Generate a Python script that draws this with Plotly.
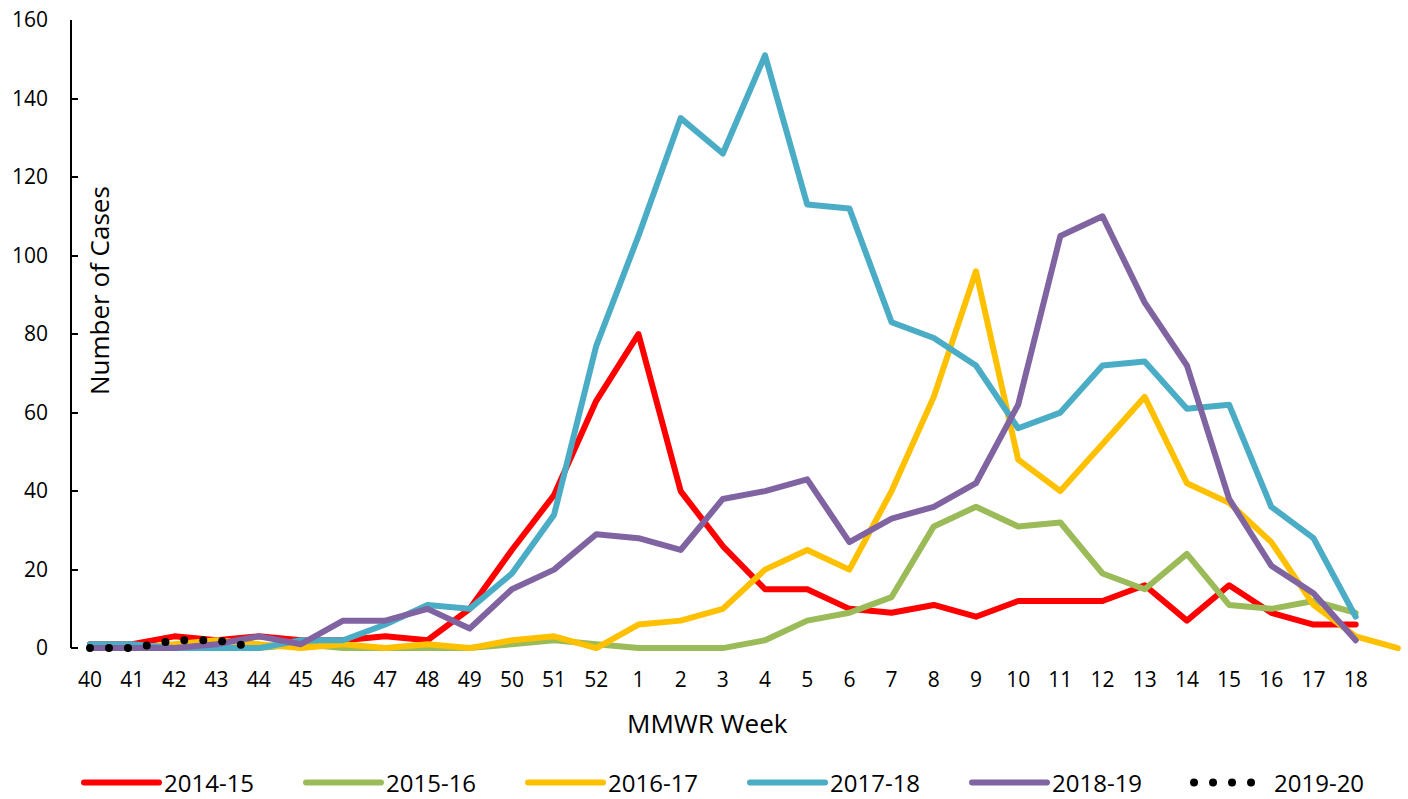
import plotly.graph_objects as go

weeks = ["40", "41", "42", "43", "44", "45", "46", "47", "48", "49", "50", "51", "52",
         "1", "2", "3", "4", "5", "6", "7", "8", "9", "10", "11", "12", "13", "14", "15",
         "16", "17", "18", ""]

s2014_15 = [1, 1, 3, 2, 3, 2, 2, 3, 2, 10, 25, 39, 63,
            80, 40, 26, 15, 15, 10, 9, 11, 8, 12, 12, 12, 16, 7, 16, 9, 6, 6]
s2015_16 = [0, 0, 0, 0, 0, 1, 0, 0, 0, 0, 1, 2, 1,
            0, 0, 0, 2, 7, 9, 13, 31, 36, 31, 32, 19, 15, 24, 11, 10, 12, 9]
s2016_17 = [0, 0, 1, 2, 1, 0, 1, 0, 1, 0, 2, 3, 0,
            6, 7, 10, 20, 25, 20, 40, 64, 96, 48, 40, 52, 64, 42, 37, 27, 11, 3, 0]
s2017_18 = [1, 1, 0, 0, 0, 2, 2, 6, 11, 10, 19, 34, 77,
            105, 135, 126, 151, 113, 112, 83, 79, 72, 56, 60, 72, 73, 61, 62, 36, 28, 8]
s2018_19 = [0, 0, 0, 1, 3, 1, 7, 7, 10, 5, 15, 20, 29,
            28, 25, 38, 40, 43, 27, 33, 36, 42, 62, 105, 110, 88, 72, 38, 21, 14, 2]
s2019_20 = [0, 0, 2, 2, 0]

series = [
    ("2014-15", s2014_15, "#FF0000"),
    ("2015-16", s2015_16, "#9BBB59"),
    ("2016-17", s2016_17, "#FFC000"),
    ("2017-18", s2017_18, "#4BACC6"),
    ("2018-19", s2018_19, "#8064A2"),
]

FONT = "Open Sans"
x_idx = list(range(len(weeks)))

fig = go.Figure()
for name, vals, color in series:
    fig.add_trace(go.Scatter(
        x=x_idx[:len(vals)], y=vals, name=name, mode="lines",
        line=dict(color=color, width=6),
    ))
fig.add_trace(go.Scatter(
    x=x_idx[:len(s2019_20)], y=s2019_20, name="2019-20", mode="lines",
    line=dict(color="black", width=8, dash="0px,19px"),
))

xr = [-0.45, 31.24]
yr = [-1.5, 160]

fig.update_layout(
    width=1408, height=799,
    margin=dict(l=71, r=0, t=20, b=145, autoexpand=False),
    paper_bgcolor="white", plot_bgcolor="white",
    font=dict(family=FONT, color="black"),
    xaxis=dict(
        range=xr, tickvals=x_idx[:31], ticktext=weeks[:31],
        showline=False, ticks="", showgrid=False, zeroline=False,
        tickfont=dict(size=21, family=FONT), ticklabelstandoff=11,
    ),
    xaxis2=dict(
        overlaying="x", anchor="free", position=(0 - yr[0]) / (yr[1] - yr[0]),
        side="bottom", range=xr, tickvals=x_idx, ticks="inside", ticklen=5,
        tickwidth=1.5, tickcolor="black", showline=True, linewidth=2,
        linecolor="black", showticklabels=False, showgrid=False, zeroline=False,
    ),
    yaxis=dict(
        range=yr, tickvals=list(range(0, 161, 20)),
        showline=False, ticks="inside", ticklen=7, tickwidth=2, tickcolor="black",
        showgrid=False, zeroline=False, tickfont=dict(size=21, family=FONT),
        ticklabelstandoff=22,
    ),
    legend=dict(
        orientation="h", x=0.006, xanchor="left", y=-0.2035, yanchor="middle",
        font=dict(size=24, family=FONT), entrywidth=132, itemwidth=75,
        bgcolor="rgba(0,0,0,0)",
    ),
    shapes=[dict(type="line", xref="paper", yref="y", x0=0, x1=0, y0=0, y1=160,
                 line=dict(color="black", width=2))],
    annotations=[
        dict(text="MMWR Week", xref="paper", yref="paper", x=0.4757, y=-0.1088,
             xanchor="center", yanchor="middle", showarrow=False,
             font=dict(size=26, family=FONT)),
        dict(text="Number of Cases", xref="paper", yref="paper", x=0.0209, y=0.574,
             xanchor="center", yanchor="middle", textangle=-90, showarrow=False,
             font=dict(size=26, family=FONT)),
    ],
)

post = """
document.body.style.margin = '0';
document.body.style.padding = '0';
var gd = document.getElementById('{plot_id}');
function rc(){
  gd.querySelectorAll('path.js-line').forEach(function(p){
    p.style.strokeLinecap = 'round';
    p.style.strokeLinejoin = 'round';
  });
}
rc();
if (gd.on) { gd.on('plotly_afterplot', rc); }
"""

fig.write_html("out.html", post_script=post, config={"displayModeBar": False})
